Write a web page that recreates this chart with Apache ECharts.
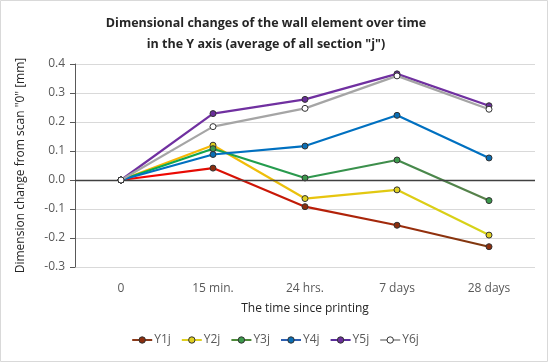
<!DOCTYPE html>
<html><head><meta charset="utf-8">
<script src="https://cdn.jsdelivr.net/npm/echarts@6/dist/echarts.min.js"></script>
<style>html,body{margin:0;padding:0;background:#fff}#c{width:550px;height:364px}</style>
</head><body><div id="c"></div>
<script>
const categories = ['0', '15 min.', '24 hrs.', '7 days', '28 days'];
const seriesNames = ['Y1j', 'Y2j', 'Y3j', 'Y4j', 'Y5j', 'Y6j'];
const Y1j = [0, 0.041, -0.092, -0.156, -0.230];
const Y2j = [0, 0.120, -0.064, -0.034, -0.190];
const Y3j = [0, 0.108, 0.007, 0.069, -0.071];
const Y4j = [0, 0.088, 0.117, 0.223, 0.076];
const Y5j = [0, 0.229, 0.278, 0.366, 0.256];
const Y6j = [0, 0.184, 0.247, 0.359, 0.244];
const yTicks = [-0.3, -0.2, -0.1, 0.0, 0.1, 0.2, 0.3, 0.4];

const values = [Y1j, Y2j, Y3j, Y4j, Y5j, Y6j];
const lineColors = [
  ['#FF0000', '#7B3A10'],
  ['#FFB000', '#D4D41A'],
  ['#00B050', '#5A7F4A'],
  ['#0070C0', '#0070C0'],
  ['#7030A0', '#7030A0'],
  ['#A5A5A5', '#A5A5A5']
];
const markerColors = ['#8B2E0E', '#E0D020', '#3C9A4C', '#0A6EB4', '#6A2E9A', '#FFFFFF'];
const legendColors = ['#8B3A1A', '#E0D020', '#4E8A3A', '#2E5FB0', '#5A2E9A', '#A5A5A5'];

const chart = echarts.init(document.getElementById('c'));
const font = 'Open Sans';
chart.setOption({
  animation: false,
  backgroundColor: '#fff',
  textStyle: {fontFamily: font},
  title: {
    text: 'Dimensional changes of the wall element over time\nin the Y axis (average of all section "j")',
    left: 261, top: 8, textAlign: 'center',
    textStyle: {fontFamily: font, fontSize: 12.5, fontWeight: 'bold', color: '#262626', lineHeight: 21}
  },
  graphic: [{type: 'rect', shape: {x: 0.5, y: 0.5, width: 547, height: 361}, style: {fill: 'none', stroke: '#d9d9d9', lineWidth: 1}, silent: true}],
  grid: {left: 75, right: 15, top: 64, bottom: 97, containLabel: false},
  legend: {
    bottom: 13, left: 'center', itemGap: 10, itemWidth: 20, itemHeight: 8,
    data: seriesNames.map((n, i) => ({name: n, itemStyle: {color: markerColors[i], borderColor: '#333', borderWidth: 1}, lineStyle: {color: legendColors[i], width: 2}})),
    textStyle: {fontFamily: font, fontSize: 12, color: '#595959', padding: [0, 0, 0, -3]}
  },
  xAxis: {
    type: 'category', data: categories, boundaryGap: true,
    name: 'The time since printing', nameLocation: 'middle', nameGap: 36,
    nameTextStyle: {fontFamily: font, fontSize: 12, color: '#262626'},
    axisLine: {show: false}, axisTick: {show: false},
    axisLabel: {fontFamily: font, fontSize: 12, color: '#595959', margin: 16}
  },
  yAxis: {
    type: 'value', min: -0.3, max: 0.4, interval: 0.1,
    name: 'Dimension change from scan "0" [mm]', nameLocation: 'middle', nameGap: 48,
    nameTextStyle: {fontFamily: font, fontSize: 12, color: '#262626'},
    axisLine: {show: true, lineStyle: {color: '#595959', width: 1}},
    axisTick: {show: true, inside: false, length: 5, lineStyle: {color: '#595959'}},
    axisLabel: {fontFamily: font, fontSize: 12, color: '#595959', margin: 10, formatter: v => v.toFixed(1)},
    splitLine: {lineStyle: {color: '#d9d9d9', width: 1}}
  },
  series: seriesNames.map((n, i) => ({
    name: n, type: 'line', data: values[i],
    symbol: 'circle', symbolSize: 6, z: 2 + i,
    lineStyle: {width: 2.2, color: new echarts.graphic.LinearGradient(0, 0, 1, 0, [{offset: 0, color: lineColors[i][0]}, {offset: 1, color: lineColors[i][1]}])},
    itemStyle: {color: markerColors[i], borderColor: '#333', borderWidth: 1},
    markLine: i === 0 ? {silent: true, symbol: 'none', label: {show: false}, lineStyle: {color: '#404040', width: 1.3, type: 'solid'}, data: [{yAxis: 0}]} : undefined
  }))
});
</script></body></html>
